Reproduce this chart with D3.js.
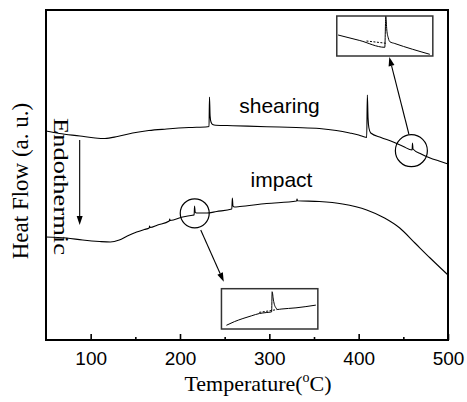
<!DOCTYPE html>
<html><head><meta charset="utf-8">
<script src="https://cdn.jsdelivr.net/npm/d3@7/dist/d3.min.js"></script>
<style>html,body{margin:0;padding:0;background:#fff;}svg{display:block;}</style>
</head><body>
<script>
// ---- data (temperature in °C, heat flow in arbitrary units) ----
const shearT = [50,65,88,105,116,130,147,165,185,210,231,232.5,233,233.7,234.7,236.5,240,259,297,330,356,375,390,400,409,409.7,410.5,411.5,413.5,425,438,450,459.8,460.3,460.8,470,480,490,500];
const shearH = [209,206.5,204,202,201.5,203.5,207,209.5,211,212.5,213.3,213.5,243,224,218,215.5,214.8,214.3,213.3,212.5,211.5,209.5,207,205,202.5,245,222,212,207,202.5,198.3,193.5,190,197,191,186,182,179,176];

const impactT = [50,73,91,110,122,132,141,151.5,160,165.5,166,166.5,175,188,188.5,189,203,214,215.8,216.3,217,218.5,230,241,258,258.6,259.3,261,267,297,330.5,331,331.5,356,382,409,429,446,463,480,500];
const impactH = [103,102,100,98.5,98,100,104,108,110.5,112,114,112.5,115,119,121,119.5,123,124.8,125,134,128,127,127,128.5,131,142,134,133,133.5,136.5,139,141,139.2,138.5,136,130,122,112,97,82,65];

// inset curves (local units)
const insetTopX = [1.3,23,48,49,50,51.5,53,58,93];
const insetTopY = [21,15.5,8.7,39.5,26,18,14.3,12.5,1.7];
const insetTopDashX = [29.7,49.7];
const insetTopDashY = [15,12.7];

const insetBotX = [5,13,21.6,30,38.3,45,50.5,51,52.3,53.5,54.5,56.6,60,75,95];
const insetBotY = [3.7,7.3,10.4,13,15.4,16.3,17,37,28.7,23.5,21.5,19.4,19.8,21,23.7];
const insetBotDashX = [38,51,56.6];
const insetBotDashY = [16.5,18.5,19.4];

const majorTicks = [100,200,300,400,500];
const minorTicks = [150,250,350,450];
const curveLabels = ["shearing","impact"];

// ---- layout ----
const W = 467, H = 402;
const svg = d3.select("body").append("svg").attr("width",W).attr("height",H);
svg.append("rect").attr("width",W).attr("height",H).attr("fill","#fff");

const x = d3.scaleLinear().domain([50,500]).range([46,448]);
const y = d3.scaleLinear().domain([0,330]).range([340,10]);

const line = d3.line().x(d=>x(d[0])).y(d=>y(d[1])).curve(d3.curveMonotoneX);

// curves
svg.append("path").datum(d3.zip(shearT,shearH)).attr("d",line)
  .attr("fill","none").attr("stroke","#000").attr("stroke-width",1.1).attr("stroke-linejoin","round");
svg.append("path").datum(d3.zip(impactT,impactH)).attr("d",line)
  .attr("fill","none").attr("stroke","#000").attr("stroke-width",1.1).attr("stroke-linejoin","round");

// axes
const gx = svg.append("g").attr("transform","translate(0,340)");
gx.call(d3.axisBottom(x).tickValues(majorTicks).tickSize(-6).tickPadding(12).tickFormat(d3.format("d")));
gx.append("g").call(d3.axisBottom(x).tickValues(minorTicks).tickSize(-3).tickFormat(""));
gx.selectAll(".domain").remove();
gx.selectAll(".tick line").attr("stroke","#000").attr("stroke-width",1.6);
gx.selectAll(".tick text").attr("font-family","'Liberation Sans',Arial,sans-serif").attr("font-size",19).attr("fill","#000");

// frame
svg.append("rect").attr("x",46).attr("y",10).attr("width",402).attr("height",330)
  .attr("fill","none").attr("stroke","#000").attr("stroke-width",2);

// axis titles
svg.append("text").attr("transform","translate(28,181) rotate(-90)").attr("text-anchor","middle")
  .attr("font-family","'Liberation Serif','Times New Roman',serif").attr("font-size",23).attr("fill","#000")
  .text("Heat Flow (a. u.)");
const xt = svg.append("text").attr("x",258).attr("y",391).attr("text-anchor","middle")
  .attr("font-family","'Liberation Serif','Times New Roman',serif").attr("font-size",22).attr("fill","#000");
xt.append("tspan").text("Temperature(");
xt.append("tspan").attr("font-size",14).attr("dy",-9).text("o");
xt.append("tspan").attr("dy",9).text("C)");

// labels
svg.append("text").attr("x",279.5).attr("y",113).attr("text-anchor","middle")
  .attr("font-family","'Liberation Sans',Arial,sans-serif").attr("font-size",21).text(curveLabels[0]);
svg.append("text").attr("x",281.5).attr("y",187).attr("text-anchor","middle")
  .attr("font-family","'Liberation Sans',Arial,sans-serif").attr("font-size",21).text(curveLabels[1]);

// Endothermic
svg.append("text").attr("transform","translate(54,118) rotate(90)")
  .attr("font-family","'Liberation Serif','Times New Roman',serif").attr("font-size",22)
  .attr("textLength",137).attr("lengthAdjust","spacingAndGlyphs").text("Endothermic");

function arrow(t0,v0,t1,v1){
  const x0=x(t0),y0=y(v0),x1=x(t1),y1=y(v1);
  const a=Math.atan2(y1-y0,x1-x0), L=9, w=3;
  const bx=x1-L*Math.cos(a), by=y1-L*Math.sin(a);
  svg.append("line").attr("x1",x0).attr("y1",y0).attr("x2",bx).attr("y2",by)
    .attr("stroke","#000").attr("stroke-width",1.1);
  svg.append("path").attr("d",`M${x1},${y1}L${bx+w*Math.sin(a)},${by-w*Math.cos(a)}L${bx-w*Math.sin(a)},${by+w*Math.cos(a)}Z`)
    .attr("fill","#000");
}
arrow(87.7,200,87.7,115);
arrow(456.2,206,434.3,283);
arrow(223.2,110,249,58.3);

// circles
svg.append("circle").attr("cx",x(459)).attr("cy",y(189.3)).attr("r",16).attr("fill","none").attr("stroke","#000").attr("stroke-width",1.2);
svg.append("circle").attr("cx",x(216.5)).attr("cy",y(126.7)).attr("r",14.5).attr("fill","none").attr("stroke","#000").attr("stroke-width",1.2);

// insets
function inset(t0,t1,v0,v1,wLocal,xs,ys,dxs,dys){
  const X0=x(t0),X1=x(t1),Y0=y(v1),Y1=y(v0);
  svg.append("rect").attr("x",X0).attr("y",Y0).attr("width",X1-X0).attr("height",Y1-Y0)
    .attr("fill","#fff").attr("stroke","#333").attr("stroke-width",1.5);
  const lx=d3.scaleLinear().domain([0,wLocal]).range([X0,X1]);
  const ly=d3.scaleLinear().domain([0,40]).range([Y1,Y0]);
  const l=d3.line().x(d=>lx(d[0])).y(d=>ly(d[1])).curve(d3.curveMonotoneX);
  svg.append("path").datum(d3.zip(xs,ys)).attr("d",l).attr("fill","none").attr("stroke","#000").attr("stroke-width",1);
  svg.append("path").datum(d3.zip(dxs,dys)).attr("d",l).attr("fill","none").attr("stroke","#000").attr("stroke-width",1).attr("stroke-dasharray","2,1.5");
}
inset(375.5,483,284,324,96,insetTopX,insetTopY,insetTopDashX,insetTopDashY);
inset(246.4,354.3,11,51.3,97,insetBotX,insetBotY,insetBotDashX,insetBotDashY);
</script>
</body></html>
